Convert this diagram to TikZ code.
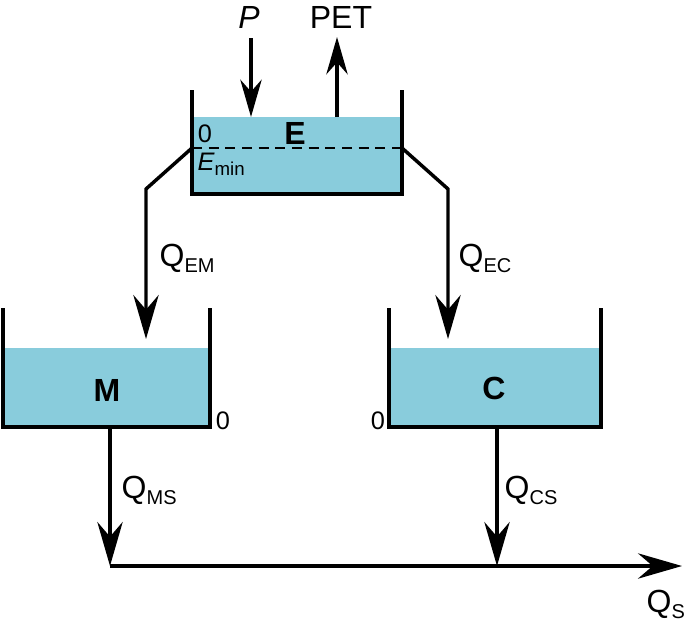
\documentclass[tikz,border=0pt]{standalone}
\usepackage{fontspec}
\setmainfont{Liberation Sans}
\usetikzlibrary{arrows.meta}
\definecolor{water}{RGB}{137,204,220}
\newcommand\lowsub[1]{\raisebox{-5pt}{\fontsize{15}{16}\selectfont #1}}
\begin{document}
\begin{tikzpicture}[x=0.75pt,y=-0.75pt,line width=2.6pt,
    flow/.style={-{Stealth[length=33pt,width=19pt,inset=11pt]}},
    smallflow/.style={-{Stealth[length=28pt,width=16pt,inset=9pt]}},
    big/.style={font=\fontsize{24}{26}\selectfont,inner sep=0pt},
    zero/.style={font=\fontsize{19}{20}\selectfont,inner sep=0pt}]
  \useasboundingbox (0,0) rectangle (685,628);
  \fill[water] (192,117) rectangle (402,194);
  \fill[water] (3,348) rectangle (210,427);
  \fill[water] (389,348) rectangle (601,427);
  \draw (192,90) -- (192,194) -- (402,194) -- (402,90);
  \draw (3,308) -- (3,427) -- (210,427) -- (210,308);
  \draw (389,308) -- (389,427) -- (601,427) -- (601,308);
  \coordinate (Eleft) at (192,148);
  \coordinate (Eright) at (402,148);
  \coordinate (EMbend) at (146,189);
  \coordinate (Mtop) at (146,339);
  \coordinate (ECbend) at (448,189);
  \coordinate (Ctop) at (448,339);
  \coordinate (Pin) at (251,38);
  \coordinate (Esurf) at (251,117);
  \coordinate (ETsurf) at (337,117);
  \coordinate (ETout) at (337,37);
  \coordinate (Mout) at (110,427);
  \coordinate (Sleft) at (110,566);
  \coordinate (Cout) at (497,427);
  \coordinate (Sjoin) at (497,566);
  \coordinate (Send) at (682,566);
  \draw[line width=2.1pt,dash pattern=on 7.5pt off 5pt] (Eleft) -- (Eright);
  \draw[smallflow] (Pin) -- (Esurf);
  \draw[smallflow] (ETsurf) -- (ETout);
  \draw[flow] (Eleft) -- (EMbend) -- (Mtop);
  \draw[flow] (Eright) -- (ECbend) -- (Ctop);
  \draw[flow] (Mout) -- (Sleft);
  \draw[flow] (Cout) -- (Sjoin);
  \draw[flow] (Sleft) -- (Send);
  \node[big] (p) at (249,17) {\itshape P};
  \node[big] (pet) at (341,17) {PET};
  \node[big] (e) at (295,133) {\bfseries E};
  \node[zero] (ezero) at (205,134) {0};
  \node[anchor=base west,inner sep=0pt,font=\fontsize{19}{20}\selectfont] (emin) at (196,170) {\itshape E\upshape\raisebox{-4pt}{\fontsize{14}{15}\selectfont min}};
  \node[big] (m) at (107,390) {\bfseries M};
  \node[big] (c) at (494,388) {\bfseries C};
  \node[zero] (mzero) at (223,421) {0};
  \node[zero] (czero) at (378,421) {0};
  \node[big,anchor=base west] (qem) at (158,266) {Q\lowsub{EM}};
  \node[big,anchor=base west] (qec) at (457,266) {Q\lowsub{EC}};
  \node[big,anchor=base west] (qms) at (120,498) {Q\lowsub{MS}};
  \node[big,anchor=base west] (qcs) at (503,498) {Q\lowsub{CS}};
  \node[big,anchor=base west] (qs) at (645,612) {Q\lowsub{S}};
\end{tikzpicture}
\end{document}
